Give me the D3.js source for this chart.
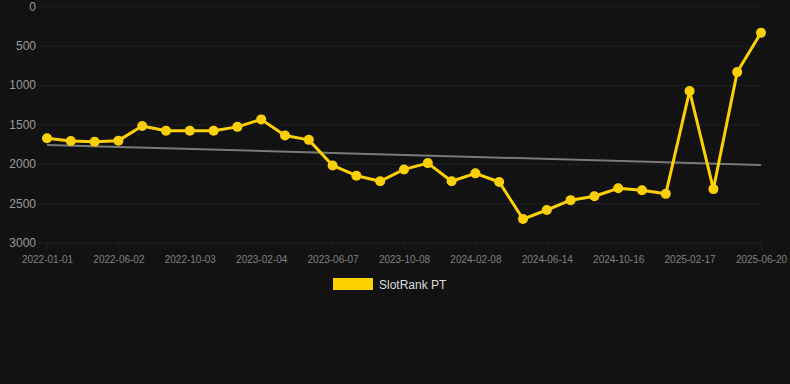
<!DOCTYPE html>
<html><head><meta charset="utf-8">
<script src="https://cdn.jsdelivr.net/npm/d3@7"></script>
<style>
html,body{margin:0;padding:0;background:#121212;}
svg{display:block;}
</style></head>
<body>
<svg id="chart" width="790" height="384"></svg>
<script>
const dates = ["2022-01-01","2022-02-21","2022-04-12","2022-06-02","2022-07-13","2022-08-23","2022-10-03","2022-11-13","2022-12-25","2023-02-04","2023-03-17","2023-04-27","2023-06-07","2023-07-18","2023-08-28","2023-10-08","2023-11-18","2023-12-29","2024-02-08","2024-03-20","2024-05-02","2024-06-14","2024-07-25","2024-09-04","2024-10-16","2024-11-26","2025-01-06","2025-02-17","2025-03-30","2025-05-10","2025-06-20"];
const rankPT = [1675,1710,1720,1705,1520,1580,1580,1580,1530,1435,1640,1695,2020,2150,2220,2070,1990,2220,2120,2230,2700,2585,2460,2410,2310,2335,2380,1075,2320,835,335];
const trendEnds = [1760,2013];
const yTicks = [0,500,1000,1500,2000,2500,3000];
const xTickLabels = ["2022-01-01","2022-06-02","2022-10-03","2023-02-04","2023-06-07","2023-10-08","2024-02-08","2024-06-14","2024-10-16","2025-02-17","2025-06-20"];
const seriesName = "SlotRank PT";

const svg = d3.select("#chart");
const W = 790, H = 384;
svg.append("rect").attr("width",W).attr("height",H).attr("fill","#121212");

const x = d3.scalePoint().domain(dates).range([47,761]);
const y = d3.scaleLinear().domain([0,3000]).range([6.3,242.7]);
const font = "'Liberation Sans', Arial, Helvetica, sans-serif";
const gridColor = "#202020";

// horizontal grid
const yAxis = d3.axisLeft(y).tickValues(yTicks).tickSize(-(761-37)).tickPadding(0).tickFormat(d3.format("d"));
const gy = svg.append("g").attr("transform","translate(37,0)").call(yAxis);
gy.select(".domain").remove();
gy.selectAll(".tick line").attr("stroke",gridColor).attr("x1",0).attr("x2",761-37+2);
gy.selectAll(".tick text").attr("fill","#9a9a9a").attr("font-family",font).attr("font-size",12).attr("x",-1).attr("text-anchor","end");

// vertical grid + x labels
const xAxis = d3.axisBottom(x).tickValues(xTickLabels).tickSize(-(242.7-6.3)).tickPadding(13);
const gx = svg.append("g").attr("transform","translate(0,242.7)").call(xAxis);
gx.select(".domain").remove();
gx.selectAll(".tick line").attr("stroke",gridColor).attr("y2",6);
gx.selectAll(".tick text").attr("fill","#808080").attr("font-family",font).attr("font-size",10);

// trend line
svg.append("line")
  .attr("x1",x(dates[0])).attr("y1",y(trendEnds[0]))
  .attr("x2",x(dates[dates.length-1])).attr("y2",y(trendEnds[1]))
  .attr("stroke","#7a7a7a").attr("stroke-width",2);

const color = "#FFD000";
const line = d3.line().x((d,i)=>x(dates[i])).y(d=>y(d));
svg.append("path").datum(rankPT).attr("d",line).attr("fill","none")
  .attr("stroke",color).attr("stroke-width",3).attr("stroke-linejoin","round");
svg.selectAll("circle.pt").data(rankPT).enter().append("circle")
  .attr("class","pt").attr("cx",(d,i)=>x(dates[i])).attr("cy",d=>y(d)).attr("r",5).attr("fill",color);

// legend
const lg = svg.append("g");
lg.append("rect").attr("x",333.5).attr("y",278.5).attr("width",39).attr("height",11).attr("fill",color).attr("stroke",color);
lg.append("text").attr("x",379).attr("y",288.5).text(seriesName)
  .attr("fill","#dddddd").attr("font-family",font).attr("font-size",12);
</script>
</body></html>
